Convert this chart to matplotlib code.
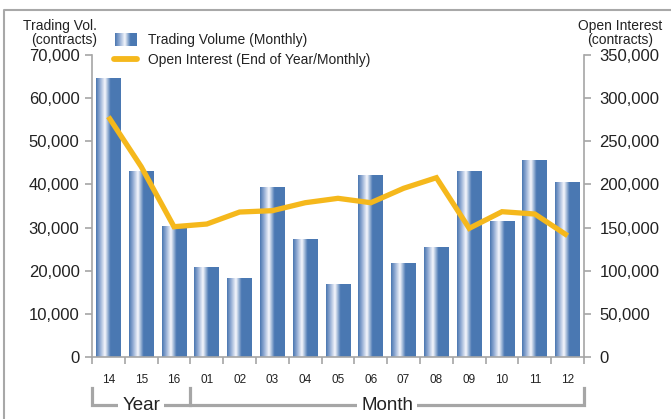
import numpy as np
import matplotlib
matplotlib.use("Agg")
import matplotlib.pyplot as plt
from matplotlib.colors import LinearSegmentedColormap
from matplotlib.lines import Line2D
from matplotlib.transforms import blended_transform_factory

plt.rcParams["font.family"] = ["Liberation Sans", "DejaVu Sans"]

# data
categories = ["14", "15", "16", "01", "02", "03", "04", "05",
              "06", "07", "08", "09", "10", "11", "12"]
volume = [64500, 43100, 30300, 20860, 18300, 39400, 27350, 16920,
          41960, 21560, 25270, 43100, 31360, 45660, 40560]
open_interest = [278500, 220600, 151000, 154100, 168000, 169600, 178800, 183900,
                 178800, 195500, 207800, 149100, 168400, 165700, 140600]
group_labels = ["Year", "Month"]
group_bounds = [(-0.5, 2.5), (2.5, 14.5)]

BLUE = "#4a78b2"
ORANGE = "#f5b81c"
GREY = "#a6a6a6"
TEXT = "#222222"

bar_cmap = LinearSegmentedColormap.from_list(
    "bar", [(0.0, "#4a76b0"), (0.14, "#88a4cf"), (0.36, "#f7f8fd"),
            (0.58, "#4b79b3"), (1.0, BLUE)])
gradient = np.linspace(0, 1, 256).reshape(1, -1)

W, H = 671, 419
fig = plt.figure(figsize=(W / 100, H / 100), dpi=100)
ax = fig.add_axes([92 / W, 1 - 357 / H, (584 - 92) / W, (357 - 55) / H])
ax2 = ax.twinx()

x = np.arange(len(categories))
width = 0.76
for xi, v in zip(x, volume):
    ax.imshow(gradient, extent=(xi - width / 2, xi + width / 2, 0, v),
              aspect="auto", cmap=bar_cmap, interpolation="bilinear", zorder=2)

ax2.plot(x, open_interest, color=ORANGE, lw=3.8, solid_joinstyle="miter",
         solid_capstyle="butt", zorder=3)

ax.set_xlim(-0.5, len(categories) - 0.5)
ax.set_ylim(0, 70000)
ax2.set_ylim(0, 350000)
ax.set_yticks(np.arange(0, 70001, 10000))
ax.set_yticklabels([f"{v:,}" for v in range(0, 70001, 10000)])
ax2.set_yticks(np.arange(0, 350001, 50000))
ax2.set_yticklabels([f"{v:,}" for v in range(0, 350001, 50000)])

ax.set_xticks(x)
ax.set_xticklabels(categories)
ax.set_xticks(np.arange(-0.5, len(categories)), minor=True)
ax.tick_params(axis="x", which="major", length=0, pad=12, labelsize=8.5, labelcolor=TEXT)
ax.tick_params(axis="x", which="minor", length=5, width=1.2, color=GREY)
ax.tick_params(axis="y", length=5, width=1.2, color=GREY, labelsize=12,
               labelcolor=TEXT, pad=4)
ax2.tick_params(axis="y", length=5, width=1.2, color=GREY, labelsize=12,
                labelcolor=TEXT, pad=6)

for side in ["top", "right"]:
    ax.spines[side].set_visible(False)
for side in ["top", "left", "bottom"]:
    ax2.spines[side].set_visible(False)
for spine in [ax.spines["left"], ax.spines["bottom"], ax2.spines["right"]]:
    spine.set_color(GREY)
    spine.set_linewidth(1.2)

# Year / Month brackets under the axis
trans = blended_transform_factory(ax.transData, ax.transAxes)
y_top, y_bot = -0.103, -0.160
ax.plot([-0.5, -0.5, 14.5, 14.5], [y_top, y_bot, y_bot, y_top], color=GREY,
        lw=2.3, transform=trans, clip_on=False, solid_joinstyle="miter")
ax.plot([2.5, 2.5], [y_top, y_bot], color=GREY, lw=2.3, transform=trans,
        clip_on=False)
for label, (lo, hi) in zip(group_labels, group_bounds):
    ax.text((lo + hi) / 2, y_bot, label, transform=trans, ha="center", va="center",
            fontsize=13.5, color=TEXT,
            bbox=dict(facecolor="white", edgecolor="none", pad=3))

# axis titles
fig.text(97 / W, 1 - 33 / H, "Trading Vol.\n(contracts)", ha="right", va="center",
         multialignment="right", fontsize=10, color=TEXT, linespacing=1.0)
fig.text(620 / W, 1 - 33 / H, "Open Interest\n(contracts)", ha="center", va="center",
         multialignment="center", fontsize=10, color=TEXT, linespacing=1.0)

# legend
swatch = fig.add_axes([115 / W, 1 - 46 / H, 22 / W, 13 / H])
swatch.imshow(gradient, aspect="auto", cmap=LinearSegmentedColormap.from_list(
    "sw", [(0.0, "#4a76b0"), (0.2, "#8ea9d2"), (0.45, "#f5f7fc"),
           (0.7, "#4b79b3"), (1.0, BLUE)]), interpolation="bilinear")
swatch.set_axis_off()
fig.add_artist(Line2D([114 / W, 137 / W], [1 - 59.5 / H] * 2, color=ORANGE,
                      lw=4.2, solid_capstyle="round"))
fig.text(148 / W, 1 - 40 / H, "Trading Volume (Monthly)", va="center",
         fontsize=10, color=TEXT)
fig.text(148 / W, 1 - 60 / H, "Open Interest (End of Year/Monthly)", va="center",
         fontsize=10, color=TEXT)

# outer frame (left and top edges)
fig.add_artist(Line2D([3.5 / W, 3.5 / W, 1], [0, 1 - 10 / H, 1 - 10 / H],
                      color="#a8a8a8", lw=1.5))

fig.savefig("out.png", dpi=100, facecolor="white")
